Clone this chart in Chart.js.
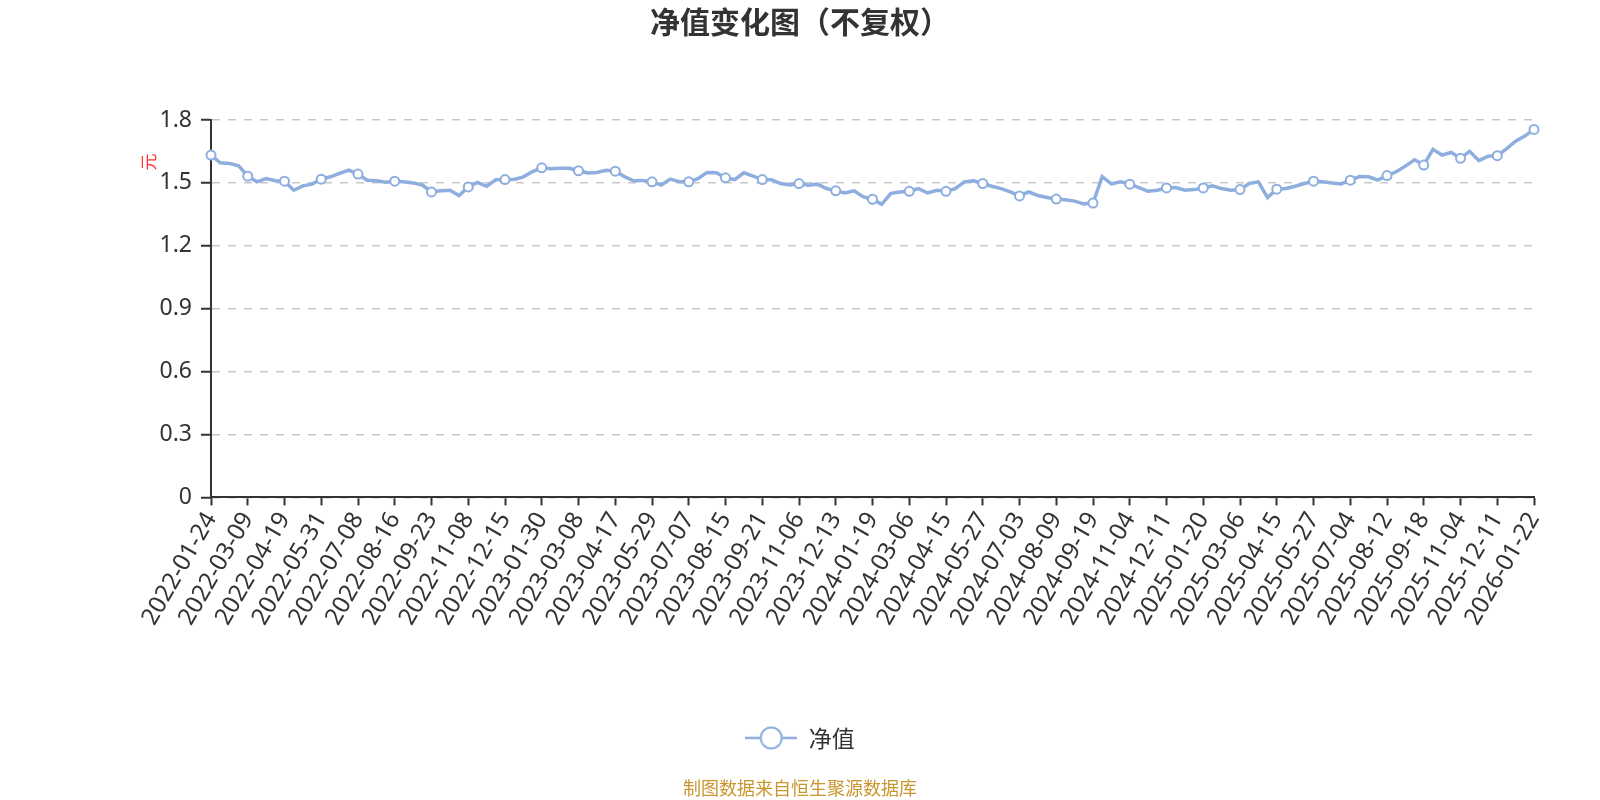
<!DOCTYPE html>
<html lang="zh-CN">
<head>
<meta charset="utf-8">
<title>净值变化图（不复权）</title>
<script src="https://cdn.jsdelivr.net/npm/chart.js@4.4.1/dist/chart.umd.min.js"></script>
<style>
  html, body { margin: 0; padding: 0; background: #fff; }
  #wrap { width: 1600px; height: 800px; }
</style>
</head>
<body>
<div id="wrap"><canvas id="navChart" width="1600" height="800"></canvas></div>
<script>
// dates printed under the x axis (one every 4 points of the series)
const tickDates = [
  '2022-01-24', '2022-03-09', '2022-04-19', '2022-05-31', '2022-07-08', '2022-08-16',
  '2022-09-23', '2022-11-08', '2022-12-15', '2023-01-30', '2023-03-08', '2023-04-17',
  '2023-05-29', '2023-07-07', '2023-08-15', '2023-09-21', '2023-11-06', '2023-12-13',
  '2024-01-19', '2024-03-06', '2024-04-15', '2024-05-27', '2024-07-03', '2024-08-09',
  '2024-09-19', '2024-11-04', '2024-12-11', '2025-01-20', '2025-03-06', '2025-04-15',
  '2025-05-27', '2025-07-04', '2025-08-12', '2025-09-18', '2025-11-04', '2025-12-11',
  '2026-01-22'
];
const pointsPerTick = 4;

// 净值 (元)
const navValues = [
  1.633, 1.596, 1.593, 1.582, 1.532, 1.505, 1.521, 1.510,
  1.508, 1.465, 1.486, 1.494, 1.518, 1.529, 1.545, 1.561,
  1.542, 1.513, 1.510, 1.503, 1.508, 1.505, 1.500, 1.490,
  1.457, 1.462, 1.465, 1.440, 1.481, 1.502, 1.484, 1.515,
  1.516, 1.516, 1.529, 1.554, 1.572, 1.567, 1.570, 1.570,
  1.558, 1.547, 1.550, 1.560, 1.556, 1.530, 1.510, 1.512,
  1.505, 1.490, 1.518, 1.505, 1.505, 1.520, 1.550, 1.548,
  1.524, 1.516, 1.548, 1.532, 1.516, 1.515, 1.497, 1.490,
  1.497, 1.489, 1.494, 1.473, 1.462, 1.452, 1.462, 1.433,
  1.422, 1.398, 1.450, 1.457, 1.460, 1.473, 1.452, 1.465,
  1.460, 1.473, 1.505, 1.510, 1.497, 1.484, 1.473, 1.457,
  1.438, 1.457, 1.440, 1.430, 1.423, 1.420, 1.413, 1.400,
  1.404, 1.530, 1.495, 1.505, 1.494, 1.478, 1.460, 1.465,
  1.476, 1.478, 1.465, 1.468, 1.476, 1.486, 1.473, 1.465,
  1.468, 1.497, 1.505, 1.430, 1.470, 1.473, 1.484, 1.497,
  1.508, 1.505, 1.500, 1.495, 1.513, 1.530, 1.529, 1.513,
  1.535, 1.553, 1.580, 1.610, 1.585, 1.660, 1.633, 1.645,
  1.617, 1.651, 1.606, 1.627, 1.630, 1.662, 1.699, 1.723,
  1.755
];

const seriesName = '净值';
const unitText = '元';
const yMax = 1.8;
const yStep = 0.3;

const lineColor = '#8daede';
const textColor = '#333';
const cjk = '"Noto Sans CJK SC", "Noto Sans", sans-serif';
const latin = '"Noto Sans", "Noto Sans CJK SC", sans-serif';

// one category per point, only every 4th one carries a date
const categories = navValues.map((v, j) => j % pointsPerTick === 0 ? tickDates[j / pointsPerTick] : '');

// legend icon: short line with a hollow circle
function makeLegendIcon() {
  const c = document.createElement('canvas');
  c.width = 52; c.height = 26;
  const g = c.getContext('2d');
  g.strokeStyle = lineColor;
  g.lineWidth = 2.5;
  g.beginPath(); g.moveTo(0, 13); g.lineTo(52, 13); g.stroke();
  g.beginPath(); g.arc(26, 13, 10.5, 0, Math.PI * 2);
  g.fillStyle = '#fff'; g.fill();
  g.lineWidth = 2; g.stroke();
  return c;
}

// red unit label next to the top of the y axis
const unitLabel = {
  id: 'unitLabel',
  afterDraw(chart) {
    const { ctx, chartArea } = chart;
    ctx.save();
    ctx.translate(chartArea.left - 62, chartArea.top + 42);
    ctx.rotate(-Math.PI / 2);
    ctx.font = '17px ' + cjk;
    ctx.fillStyle = '#f33';
    ctx.textAlign = 'center';
    ctx.textBaseline = 'middle';
    ctx.fillText(unitText, 0, 0);
    ctx.restore();
  }
};

new Chart(document.getElementById('navChart'), {
  type: 'line',
  data: {
    labels: categories,
    datasets: [{
      label: seriesName,
      data: navValues,
      borderColor: lineColor,
      borderWidth: 3.5,
      tension: 0,
      fill: false,
      pointRadius: navValues.map((v, j) => j % pointsPerTick === 0 ? 4.5 : 0),
      pointHoverRadius: 5.5,
      pointBackgroundColor: '#fff',
      pointBorderColor: lineColor,
      pointBorderWidth: 2
    }]
  },
  options: {
    responsive: false,
    animation: false,
    layout: { padding: 0 },
    plugins: {
      title: {
        display: true,
        text: '净值变化图（不复权）',
        color: textColor,
        font: { family: cjk, size: 30, weight: 'bold' },
        padding: { top: 4, bottom: 80 }
      },
      subtitle: {
        display: true,
        position: 'bottom',
        text: '制图数据来自恒生聚源数据库',
        color: '#c9962f',
        font: { family: cjk, size: 18 },
        padding: { top: 18, bottom: 1 }
      },
      legend: {
        display: true,
        position: 'bottom',
        labels: {
          usePointStyle: true,
          pointStyle: makeLegendIcon(),
          pointStyleWidth: 52,
          padding: 10,
          color: textColor,
          font: { family: cjk, size: 23 }
        }
      },
      tooltip: { enabled: true }
    },
    scales: {
      x: {
        type: 'category',
        offset: false,
        border: { display: true, color: textColor, width: 2 },
        grid: {
          display: true,
          drawOnChartArea: false,
          drawTicks: true,
          tickLength: 8,
          tickWidth: 2,
          tickColor: c => (c.tick && c.tick.label) ? textColor : 'rgba(0,0,0,0)'
        },
        ticks: {
          autoSkip: false,
          minRotation: 60,
          maxRotation: 60,
          padding: 2,
          color: textColor,
          font: { family: latin, size: 24 }
        },
        afterFit: s => { s.height = 219; }
      },
      y: {
        min: 0,
        max: yMax,
        border: { display: true, color: textColor, width: 2, dash: [8, 8] },
        grid: {
          color: '#c8c8c8',
          lineWidth: 1.5,
          tickColor: textColor,
          tickLength: 10,
          tickWidth: 2,
          tickBorderDash: []
        },
        ticks: {
          stepSize: yStep,
          padding: 9,
          color: textColor,
          font: { family: latin, size: 23 },
          callback: v => String(+v.toFixed(1))
        },
        afterFit: s => { s.width = 211; }
      },
      // empty axis on the right, only keeps the blank margin there
      gap: {
        type: 'linear',
        position: 'right',
        display: true,
        grid: { display: false },
        border: { display: false },
        ticks: { display: false },
        afterFit: s => { s.width = 66; }
      }
    }
  },
  plugins: [unitLabel]
});
</script>
</body>
</html>
